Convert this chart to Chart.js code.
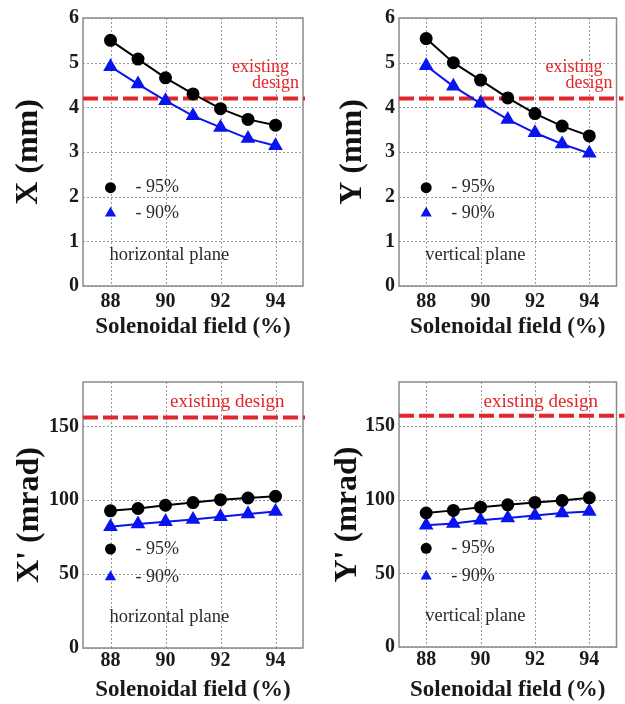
<!DOCTYPE html>
<html>
<head>
<meta charset="utf-8">
<script src="https://cdn.jsdelivr.net/npm/chart.js@4.4.0/dist/chart.umd.min.js"></script>
<style>
  body { margin: 0; background: #fff; width: 625px; height: 704px; position: relative; overflow: hidden; }
  .panel { position: absolute; }
</style>
</head>
<body>
<div class="panel" style="left:0;top:0"><canvas id="c1" width="312" height="345"></canvas></div>
<div class="panel" style="left:312px;top:0"><canvas id="c2" width="313" height="345"></canvas></div>
<div class="panel" style="left:0;top:345px"><canvas id="c3" width="312" height="359"></canvas></div>
<div class="panel" style="left:312px;top:345px"><canvas id="c4" width="313" height="359"></canvas></div>
<script>
// solenoidal field (%) and beam sizes
const fieldPct = [88, 89, 90, 91, 92, 93, 94];
const xSize95 = [5.50, 5.08, 4.66, 4.30, 3.97, 3.73, 3.60];
const xSize90 = [4.91, 4.52, 4.15, 3.81, 3.55, 3.30, 3.14];
const ySize95 = [5.54, 5.00, 4.61, 4.21, 3.86, 3.58, 3.36];
const ySize90 = [4.93, 4.47, 4.09, 3.73, 3.43, 3.18, 2.97];
const xAngle95 = [92.8, 94.4, 96.6, 98.4, 100.4, 101.5, 102.7];
const xAngle90 = [82.1, 83.9, 85.4, 87.0, 88.8, 90.6, 92.3];
const yAngle95 = [91.0, 92.8, 95.0, 96.6, 98.2, 99.5, 101.3];
const yAngle90 = [82.7, 83.9, 86.1, 87.6, 89.4, 91.0, 92.1];
const existingDesign = [4.2, 4.2, 156, 157];

const fieldTicks = [88, 90, 92, 94];
const sizeTicks = [0, 1, 2, 3, 4, 5, 6];
const angleTicks = [0, 50, 100, 150];
const seriesLabels = ['- 95%', '- 90%'];
const planeLabels = ['horizontal plane', 'vertical plane'];

const serif = "'Liberation Serif', 'Times New Roman', serif";
const BLUE = '#0a14ee';
const RED = '#e3262b';

function strokeLine(ctx, x1, y1, x2, y2) {
  ctx.beginPath();
  ctx.moveTo(x1, y1);
  ctx.lineTo(x2, y2);
  ctx.stroke();
}

function drawMarker(ctx, style, x, y) {
  ctx.beginPath();
  if (style === 'circle') {
    ctx.fillStyle = '#000';
    ctx.arc(x, y, 5.5, 0, Math.PI * 2);
  } else {
    const r = 6.5;
    ctx.fillStyle = BLUE;
    ctx.moveTo(x, y - r);
    ctx.lineTo(x + r * 0.866, y + r * 0.5);
    ctx.lineTo(x - r * 0.866, y + r * 0.5);
    ctx.closePath();
  }
  ctx.fill();
}

const decor = {
  id: 'decor',
  beforeDatasetsDraw(chart, args, o) {
    const { ctx, chartArea: a, scales: { x, y } } = chart;
    ctx.save();
    // dotted grid
    ctx.strokeStyle = '#9a9a9a';
    ctx.lineWidth = 1;
    ctx.setLineDash([2, 2]);
    x.ticks.forEach(t => {
      const px = Math.round(x.getPixelForValue(t.value)) + 0.5;
      strokeLine(ctx, px, a.top, px, a.bottom);
    });
    y.ticks.forEach(t => {
      const py = Math.round(y.getPixelForValue(t.value)) + 0.5;
      strokeLine(ctx, a.left, py, a.right, py);
    });
    // frame
    ctx.setLineDash([]);
    ctx.strokeStyle = '#8a8a8a';
    ctx.lineWidth = 1.5;
    ctx.strokeRect(a.left, a.top, a.right - a.left, a.bottom - a.top);
    // existing design line
    const py = y.getPixelForValue(o.design);
    ctx.strokeStyle = RED;
    ctx.lineWidth = 4;
    ctx.setLineDash([15, 5]);
    strokeLine(ctx, a.left, py, a.right + o.ext, py);
    ctx.restore();
  },
  afterDatasetsDraw(chart, args, o) {
    const { ctx, chartArea: a, scales: { x, y } } = chart;
    ctx.save();
    ctx.textBaseline = 'middle';
    ctx.textAlign = 'left';
    ctx.fillStyle = RED;
    if (o.twoLine) {
      ctx.font = '18px ' + serif;
      ctx.fillText('existing', a.right - 71, a.top + 49);
      ctx.fillText('design', a.right - 51, a.top + 65);
    } else {
      ctx.font = '19px ' + serif;
      ctx.fillText('existing design', a.right - 133, a.top + 20);
    }
    // in-plot legend
    const mx = x.getPixelForValue(fieldPct[0]);
    ctx.font = '18px ' + serif;
    ['circle', 'triangle'].forEach((st, i) => {
      const py = y.getPixelForValue(o.legendY[i]);
      drawMarker(ctx, st, mx, py);
      ctx.fillStyle = '#2a2a2a';
      ctx.fillText(seriesLabels[i], mx + 25, py);
    });
    ctx.font = '18.5px ' + serif;
    ctx.fillText(o.plane, mx - 1, y.getPixelForValue(o.planeY));
    ctx.restore();
  }
};

function panel(id, p) {
  const tickFont = { family: serif, size: 20, weight: 'bold' };
  return new Chart(document.getElementById(id), {
    type: 'line',
    data: {
      datasets: [
        {
          label: seriesLabels[0],
          data: fieldPct.map((f, i) => ({ x: f, y: p.s95[i] })),
          borderColor: '#000', backgroundColor: '#000',
          pointStyle: 'circle', pointRadius: 5.5, borderWidth: 2
        },
        {
          label: seriesLabels[1],
          data: fieldPct.map((f, i) => ({ x: f, y: p.s90[i] })),
          borderColor: BLUE, backgroundColor: BLUE,
          pointStyle: 'triangle', pointRadius: 6.5, borderWidth: 2
        }
      ]
    },
    options: {
      responsive: false,
      animation: false,
      events: [],
      layout: { padding: p.pad },
      plugins: {
        legend: { display: false },
        tooltip: { enabled: false },
        decor: {
          design: p.design, ext: p.ext, twoLine: p.twoLine,
          legendY: p.legendY, plane: p.plane, planeY: p.planeY
        }
      },
      scales: {
        x: {
          type: 'linear', min: 87, max: 95,
          afterBuildTicks: s => { s.ticks = fieldTicks.map(v => ({ value: v })); },
          afterFit: s => { s.height = p.xh; },
          grid: { display: false, drawTicks: false },
          border: { display: false },
          ticks: { font: tickFont, color: '#1a1a1a', padding: p.xtp },
          title: {
            display: true, text: 'Solenoidal field (%)',
            font: { family: serif, size: 23, weight: 'bold' }, color: '#1a1a1a',
            padding: { top: 0, bottom: p.xtb }
          }
        },
        y: {
          type: 'linear', min: 0, max: p.ymax,
          afterBuildTicks: s => { s.ticks = p.yticks.map(v => ({ value: v })); },
          afterFit: s => { s.width = p.yw; },
          grid: { display: false, drawTicks: false },
          border: { display: false },
          ticks: { font: tickFont, color: '#1a1a1a', padding: 4 },
          title: {
            display: true, text: p.ytitle,
            font: { family: serif, size: 32, weight: 'bold' }, color: '#111',
            padding: { top: p.ytp, bottom: 0 }
          }
        }
      }
    },
    plugins: [decor]
  });
}

panel('c1', {
  s95: xSize95, s90: xSize90, design: existingDesign[0], ymax: 6, yticks: sizeTicks,
  ytitle: 'X (mm)', plane: planeLabels[0], legendY: [2.2, 1.63], planeY: 0.69,
  pad: { top: 18, right: 9, left: 0, bottom: 0 }, yw: 83, xh: 59, xtp: 4, xtb: 4, ytp: 10,
  ext: 2, twoLine: true
});
panel('c2', {
  s95: ySize95, s90: ySize90, design: existingDesign[1], ymax: 6, yticks: sizeTicks,
  ytitle: 'Y (mm)', plane: planeLabels[1], legendY: [2.2, 1.63], planeY: 0.69,
  pad: { top: 18, right: 7, left: 0, bottom: 0 }, yw: 87, xh: 59, xtp: 4, xtb: 4, ytp: 22,
  ext: 7, twoLine: true
});
panel('c3', {
  s95: xAngle95, s90: xAngle90, design: existingDesign[2], ymax: 180, yticks: angleTicks,
  ytitle: "X' (mrad)", plane: planeLabels[0], legendY: [67, 48], planeY: 21,
  pad: { top: 37, right: 9, left: 0, bottom: 0 }, yw: 83, xh: 56, xtp: 1, xtb: 0, ytp: 11,
  ext: 2, twoLine: false
});
panel('c4', {
  s95: yAngle95, s90: yAngle90, design: existingDesign[3], ymax: 180, yticks: angleTicks,
  ytitle: "Y' (mrad)", plane: planeLabels[1], legendY: [67, 48], planeY: 21,
  pad: { top: 37, right: 8, left: 0, bottom: 0 }, yw: 87, xh: 57, xtp: 1, xtb: 0, ytp: 17,
  ext: 8, twoLine: false
});
</script>
</body>
</html>
